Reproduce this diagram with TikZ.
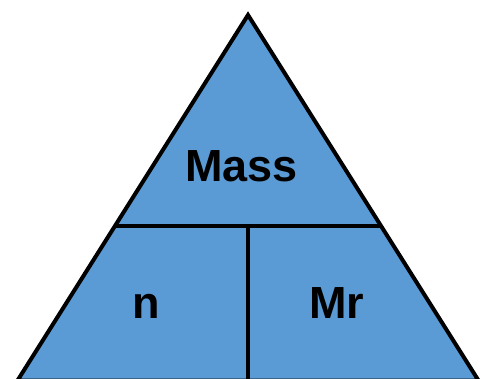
\documentclass[tikz,border=0pt]{standalone}
\usepackage{fontspec}
\setmainfont{Liberation Sans}
\usetikzlibrary{calc}
\begin{document}
\begin{tikzpicture}[x=1pt, y=-1pt, line join=miter,
  every node/.style={font=\fontsize{45}{54}\selectfont\bfseries, anchor=base},
  edge/.style={line width=4pt}]
  \useasboundingbox (0,0) rectangle (482,379);
  \coordinate (T) at (248,15); \coordinate (L) at (17.5,380.5); \coordinate (R) at (478.5,380.5);
  \coordinate (ML) at ($(T)!0.577!(L)$); \coordinate (MR) at ($(T)!0.577!(R)$);
  \coordinate (MC) at (248,225); \coordinate (B) at (248,380.5);
  \fill[fill={rgb,255:red,91;green,155;blue,213}] (T)--(L)--(R)--cycle;
  \draw[edge] (T)--(L)--(R)--cycle;
  \draw[edge] (ML)--(MR); \draw[edge] (MC)--(B);
  \foreach \n/\p/\t in {mass/{241.5,182}/Mass,n/{146,319}/n,mr/{336.5,319}/Mr}
    \node (\n) at (\p) {\t};
\end{tikzpicture}
\end{document}
